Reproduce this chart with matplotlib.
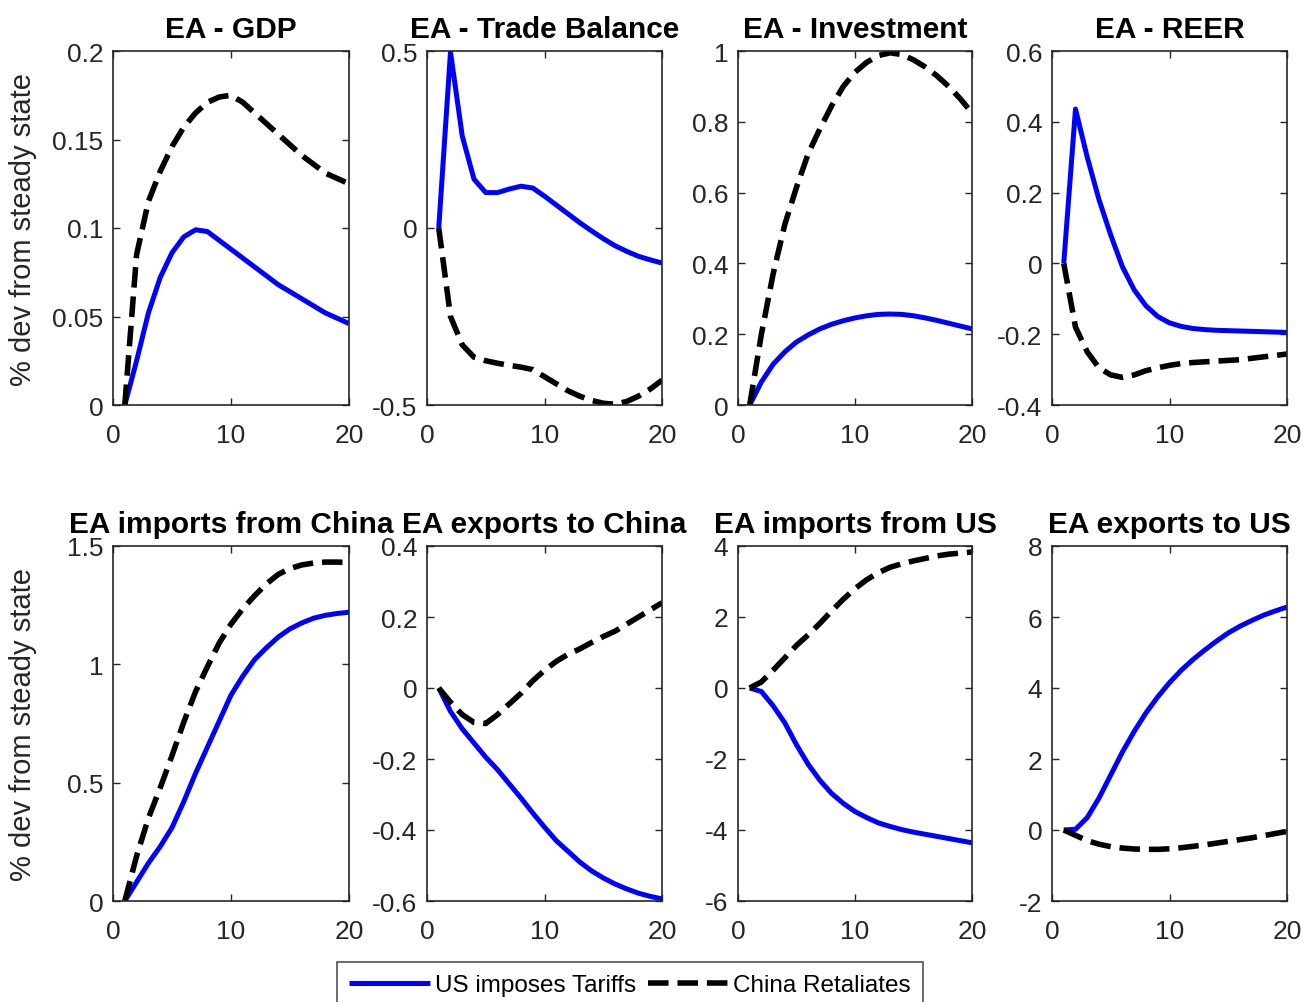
import matplotlib
matplotlib.use("Agg")
import matplotlib.pyplot as plt
import numpy as np

plt.rcParams['font.family'] = ['Liberation Sans', 'DejaVu Sans']

t = list(range(1, 21))

titles = ["EA - GDP", "EA - Trade Balance", "EA - Investment", "EA - REER",
          "EA imports from China", "EA exports to China", "EA imports from US", "EA exports to US"]

gdp_us = [0, 0.025, 0.052, 0.072, 0.086, 0.095, 0.099, 0.098, 0.093, 0.088,
          0.083, 0.078, 0.073, 0.068, 0.064, 0.060, 0.056, 0.052, 0.049, 0.046]
gdp_cn = [0, 0.085, 0.115, 0.132, 0.146, 0.157, 0.165, 0.171, 0.174, 0.175,
          0.171, 0.165, 0.159, 0.153, 0.147, 0.141, 0.136, 0.131, 0.128, 0.125]

tb_us = [0, 0.497, 0.26, 0.138, 0.10, 0.10, 0.11, 0.118, 0.113, 0.09,
         0.065, 0.04, 0.015, -0.008, -0.03, -0.05, -0.066, -0.08, -0.09, -0.099]
tb_cn = [0, -0.25, -0.33, -0.365, -0.375, -0.382, -0.388, -0.393, -0.40, -0.42,
         -0.44, -0.46, -0.475, -0.487, -0.495, -0.498, -0.49, -0.475, -0.455, -0.43]

inv_us = [0, 0.065, 0.115, 0.15, 0.178, 0.198, 0.215, 0.228, 0.238, 0.246,
          0.252, 0.256, 0.257, 0.256, 0.252, 0.246, 0.239, 0.231, 0.223, 0.215]
inv_cn = [0, 0.2, 0.37, 0.51, 0.615, 0.71, 0.78, 0.845, 0.9, 0.94,
          0.968, 0.987, 0.995, 0.99, 0.975, 0.955, 0.93, 0.9, 0.865, 0.825]

reer_us = [0, 0.436, 0.3, 0.18, 0.08, -0.01, -0.075, -0.12, -0.15, -0.168,
           -0.178, -0.184, -0.187, -0.189, -0.19, -0.191, -0.192, -0.193, -0.194, -0.195]
reer_cn = [0, -0.18, -0.25, -0.295, -0.315, -0.322, -0.315, -0.303, -0.295, -0.288,
           -0.283, -0.28, -0.278, -0.276, -0.274, -0.272, -0.268, -0.264, -0.26, -0.256]

impcn_us = [0, 0.08, 0.16, 0.23, 0.31, 0.42, 0.54, 0.65, 0.76, 0.87,
            0.95, 1.02, 1.07, 1.115, 1.15, 1.175, 1.195, 1.207, 1.215, 1.22]
impcn_cn = [0, 0.19, 0.35, 0.478, 0.614, 0.756, 0.885, 0.99, 1.09, 1.17,
            1.235, 1.29, 1.34, 1.38, 1.405, 1.42, 1.428, 1.432, 1.432, 1.43]

expcn_us = [0, -0.066, -0.115, -0.155, -0.195, -0.23, -0.27, -0.31, -0.352, -0.392,
            -0.43, -0.46, -0.49, -0.515, -0.535, -0.552, -0.566, -0.578, -0.587, -0.594]
expcn_cn = [0, -0.04, -0.075, -0.097, -0.1, -0.075, -0.045, -0.015, 0.02, 0.05,
            0.075, 0.095, 0.11, 0.128, 0.145, 0.16, 0.18, 0.2, 0.22, 0.24]

impus_us = [0, -0.1, -0.5, -0.98, -1.6, -2.15, -2.6, -2.97, -3.25, -3.48,
            -3.65, -3.8, -3.9, -3.99, -4.06, -4.12, -4.18, -4.24, -4.3, -4.36]
impus_cn = [0, 0.17, 0.5, 0.85, 1.2, 1.5, 1.82, 2.17, 2.5, 2.8,
            3.05, 3.25, 3.4, 3.5, 3.58, 3.65, 3.72, 3.77, 3.8, 3.83]

expus_us = [0, 0.02, 0.35, 0.9, 1.55, 2.2, 2.78, 3.3, 3.75, 4.15,
            4.5, 4.8, 5.07, 5.32, 5.55, 5.74, 5.9, 6.05, 6.17, 6.28]
expus_cn = [0, -0.15, -0.3, -0.4, -0.47, -0.51, -0.535, -0.545, -0.545, -0.53,
            -0.5, -0.46, -0.42, -0.37, -0.32, -0.27, -0.22, -0.16, -0.1, -0.04]

us_series = [gdp_us, tb_us, inv_us, reer_us, impcn_us, expcn_us, impus_us, expus_us]
cn_series = [gdp_cn, tb_cn, inv_cn, reer_cn, impcn_cn, expcn_cn, impus_cn, expus_cn]

ylims = [(0, 0.2), (-0.5, 0.5), (0, 1), (-0.4, 0.6),
         (0, 1.5), (-0.6, 0.4), (-6, 4), (-2, 8)]
yticks = [[0, 0.05, 0.1, 0.15, 0.2],
          [-0.5, 0, 0.5],
          [0, 0.2, 0.4, 0.6, 0.8, 1],
          [-0.4, -0.2, 0, 0.2, 0.4, 0.6],
          [0, 0.5, 1, 1.5],
          [-0.6, -0.4, -0.2, 0, 0.2, 0.4],
          [-6, -4, -2, 0, 2, 4],
          [-2, 0, 2, 4, 6, 8]]
ytick_labels = [["0", "0.05", "0.1", "0.15", "0.2"],
                ["-0.5", "0", "0.5"],
                ["0", "0.2", "0.4", "0.6", "0.8", "1"],
                ["-0.4", "-0.2", "0", "0.2", "0.4", "0.6"],
                ["0", "0.5", "1", "1.5"],
                ["-0.6", "-0.4", "-0.2", "0", "0.2", "0.4"],
                ["-6", "-4", "-2", "0", "2", "4"],
                ["-2", "0", "2", "4", "6", "8"]]
xticks = [0, 10, 20]
ylabel = "% dev from steady state"
legend_labels = ["US imposes Tariffs", "China Retaliates"]

W, H = 1304, 1003
fig = plt.figure(figsize=(W / 100, H / 100), dpi=100)

lefts = [113, 427, 738, 1052]
widths = [236, 235, 234, 235]
rows = [(52, 406), (547, 902)]

txtc = '#262626'
handles = None
for i in range(8):
    r, c = divmod(i, 4)
    top, bot = rows[r]
    ax = fig.add_axes([lefts[c] / W, 1 - bot / H, widths[c] / W, (bot - top) / H])
    h1, = ax.plot(t, us_series[i], color='#0000ff', lw=3.6, solid_capstyle='butt')
    h2, = ax.plot(t, cn_series[i], color='black', lw=4.0, ls='--')
    handles = [h1, h2]
    ax.set_xlim(0, 20)
    ax.set_ylim(*ylims[i])
    ax.set_xticks(xticks)
    ax.set_xticklabels([str(v) for v in xticks])
    ax.set_yticks(yticks[i])
    ax.set_yticklabels(ytick_labels[i])
    ax.tick_params(direction='in', top=True, right=True, length=5, width=1,
                   labelsize=19, colors=txtc)
    ax.tick_params(axis='x', pad=13)
    ax.tick_params(axis='y', pad=7)
    for s in ax.spines.values():
        s.set_color(txtc)
        s.set_linewidth(1.2)
    ax.set_title(titles[i], fontsize=21.5, fontweight='bold', pad=10)
    if c == 0:
        ax.set_ylabel(ylabel, fontsize=21, color=txtc)
        ax.yaxis.set_label_coords(-0.32, 0.5)

leg = fig.legend(handles, legend_labels, loc='upper center',
                 bbox_to_anchor=(630 / W, 1 - 963 / H), ncol=2, fontsize=17.5,
                 frameon=True, fancybox=False, handlelength=3.3, handletextpad=0.2,
                 columnspacing=0.5, borderpad=0.5, borderaxespad=0)
leg.get_frame().set_edgecolor(txtc)
leg.get_frame().set_linewidth(1.2)

fig.savefig("out.png", dpi=100)
